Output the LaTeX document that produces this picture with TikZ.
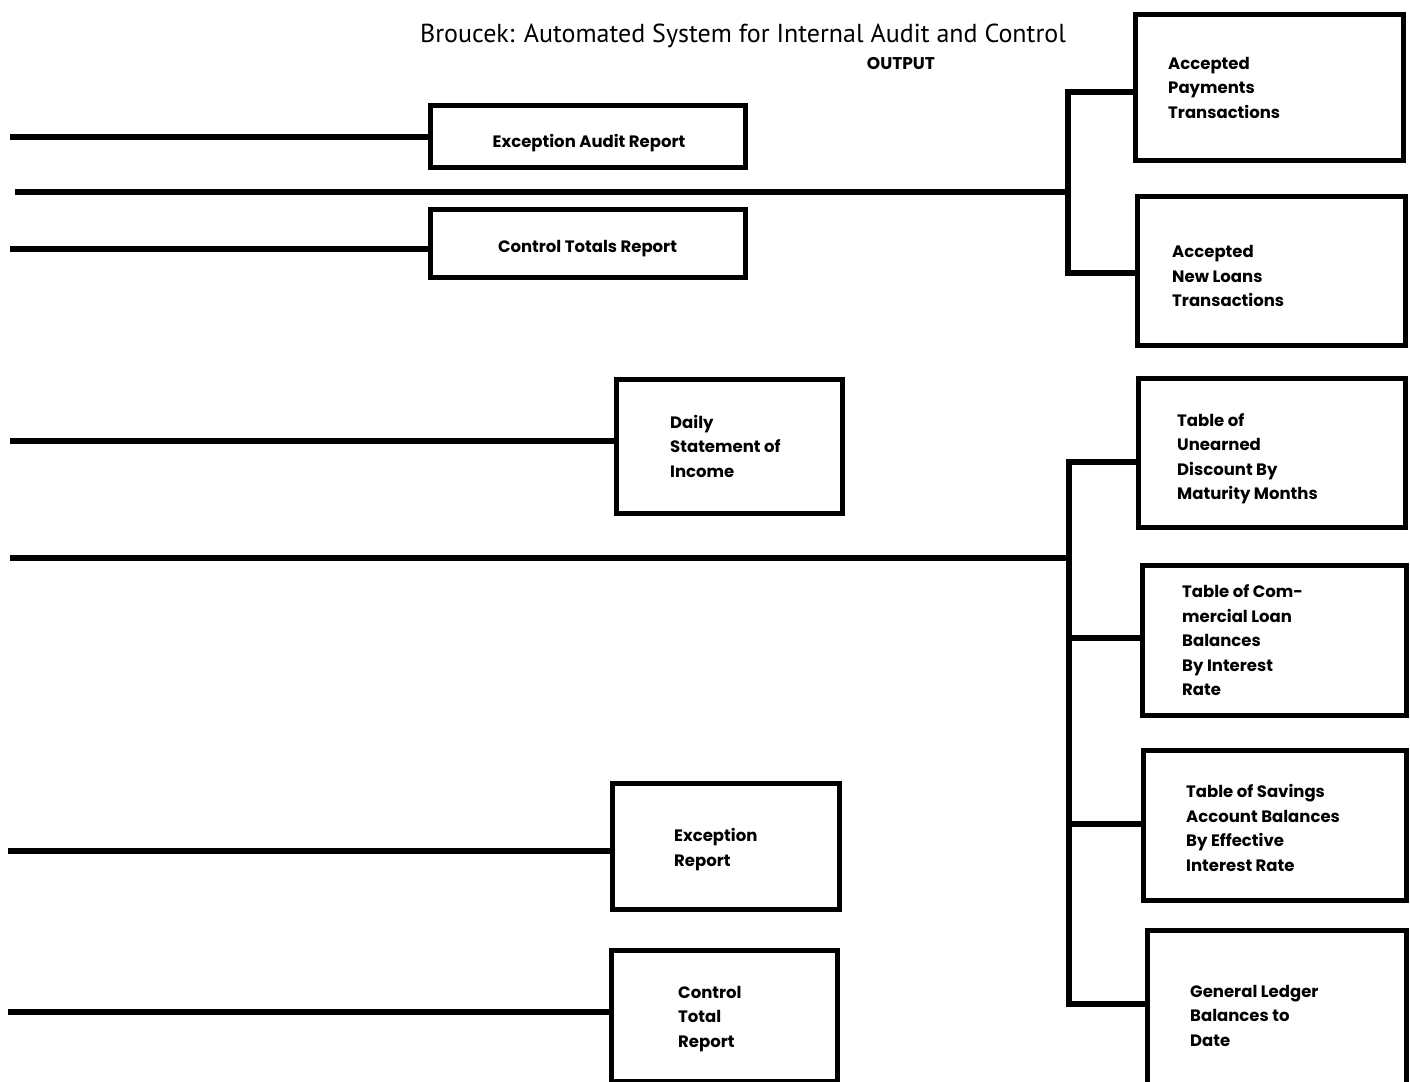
\documentclass[tikz,border=0pt]{standalone}
\usepackage{fontspec}
\setmainfont{PT Sans}
\newfontfamily\boxfont{Poppins}
\begin{document}
\begin{tikzpicture}[x=1pt,y=-1pt,
  box/.style={draw, line width=5pt, rectangle, inner sep=0pt},
  btxt/.style={font=\boxfont\bfseries\fontsize{16.5}{24.5}\selectfont, align=left, inner sep=0pt, anchor=west},
  ctxt/.style={font=\boxfont\bfseries\fontsize{16.5}{24.5}\selectfont, inner sep=0pt},
  conn/.style={line width=6pt, line join=miter},
  ttl/.style={font=\fontsize{26}{30}\selectfont, inner sep=0pt},
  sub/.style={font=\boxfont\bfseries\fontsize{17}{19}\selectfont, inner sep=0pt}]
\path[use as bounding box, clip] (0,0) rectangle (1410,1081);
\fill[white] (0,0) rectangle (1410,1081);

\node[ttl] (title) at (743,36) {Broucek: Automated System for Internal Audit and Control};
\node[sub] (out) at (901,64) {OUTPUT};

% left column boxes
\node[box, minimum width=315, minimum height=62] (b1) at (588,136.5) {};
\node[box, minimum width=315, minimum height=68] (b2) at (588,243.5) {};
\node[box, minimum width=226, minimum height=134] (b3) at (729.5,446.5) {};
\node[box, minimum width=227, minimum height=126] (b4) at (726,846.5) {};
\node[box, minimum width=226, minimum height=131] (b5) at (724.5,1016) {};

% right column boxes
\node[box, minimum width=268, minimum height=146] (b6) at (1269.5,87.5) {};
\node[box, minimum width=268, minimum height=149] (b7) at (1271.5,271) {};
\node[box, minimum width=267, minimum height=149] (b8) at (1272,453) {};
\node[box, minimum width=264, minimum height=150] (b9) at (1274.5,640.5) {};
\node[box, minimum width=263, minimum height=150] (b10) at (1275,825.5) {};
\node[box, minimum width=259, minimum height=167] (b11) at (1277,1014) {};

% box texts
\node[ctxt] (b1t) at (589,143.5) {Exception Audit Report};
\node[ctxt] (b2t) at (587.5,248.5) {Control Totals Report};
\node[btxt] (b3t) at (670,446) {Daily\\Statement of\\Income};
\node[btxt] (b4t) at (674,849.5) {Exception\\Report};
\node[btxt] (b5t) at (678,1019) {Control\\Total\\Report};
\node[btxt] (b6t) at (1168,87.5) {Accepted\\Payments\\Transactions};
\node[btxt] (b7t) at (1172,276.3) {Accepted\\New Loans\\Transactions};
\node[btxt] (b8t) at (1177,458.5) {Table of\\Unearned\\Discount By\\Maturity Months};
\node[btxt] (b9t) at (1182,640.5) {Table of Com-\\mercial Loan\\Balances\\By Interest\\Rate};
\node[btxt] (b10t) at (1186,828) {Table of Savings\\Account Balances\\By Effective\\Interest Rate};
\node[btxt] (b11t) at (1190,1015.5) {General Ledger\\Balances to\\Date};

% free ends and junctions
\coordinate (s1) at (10,137);
\coordinate (s2) at (15,192);
\coordinate (j1) at (1068,192);
\coordinate (t1) at (1068,92);
\coordinate (t2) at (1068,273);
\coordinate (s3) at (10,249);
\coordinate (s4) at (10,441);
\coordinate (s5) at (10,558);
\coordinate (j2) at (1069,558);
\coordinate (u1) at (1069,462);
\coordinate (u2) at (1069,638);
\coordinate (u3) at (1069,824);
\coordinate (u4) at (1069,1004);
\coordinate (s6) at (8,851);
\coordinate (s7) at (8,1012);

\draw[conn] (s1) -- (s1 -| b1.west);
\draw[conn] (s3) -- (s3 -| b2.west);
\draw[conn] (s4) -- (s4 -| b3.west);
\draw[conn] (s6) -- (s6 -| b4.west);
\draw[conn] (s7) -- (s7 -| b5.west);

\draw[conn] (s2) -- (j1);
\draw[conn] (t1 -| b6.west) -- (t1) -- (t2) -- (t2 -| b7.west);

\draw[conn] (s5) -- (j2);
\draw[conn] (u1 -| b8.west) -- (u1) -- (u4) -- (u4 -| b11.west);
\draw[conn] (u2) -- (u2 -| b9.west);
\draw[conn] (u3) -- (u3 -| b10.west);
\end{tikzpicture}
\end{document}
